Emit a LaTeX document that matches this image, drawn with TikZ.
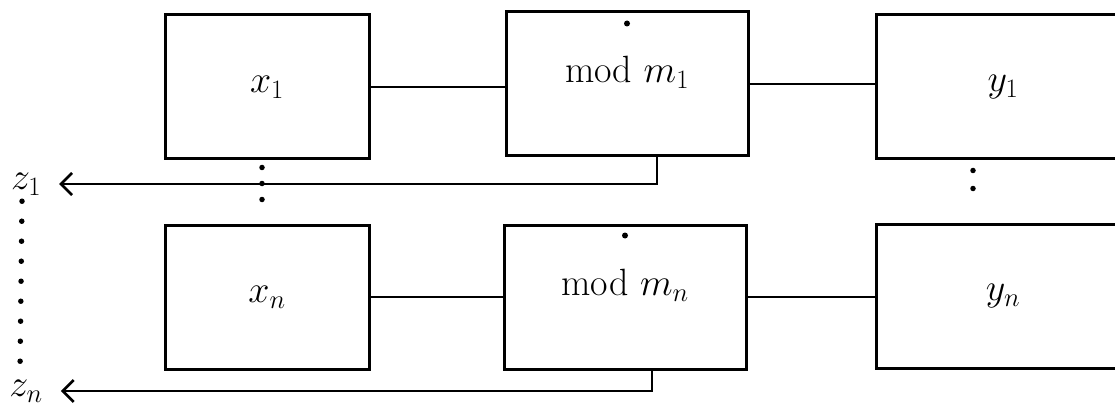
\RequirePackage{fix-cm}
\documentclass[tikz,border=0pt]{standalone}
\usepackage{amsmath}
\usetikzlibrary{arrows.meta, positioning, calc}

\newcommand{\lifted}[1]{\raisebox{0pt}[\height][\dimexpr\depth+24pt\relax]{#1}}

\begin{document}
\begin{tikzpicture}[
    x=1pt, y=-1pt,
    font=\fontsize{38}{44}\selectfont,
    line/.style={draw, line width=2.6pt, shorten >=16pt,
        -{Straight Barb[length=11pt, width=22pt, line width=2.6pt]}},
    wire/.style={draw, line width=2.6pt},
    block/.style={
        rectangle, draw=black, line width=3pt,
        minimum width=204pt, minimum height=144pt,
        inner sep=0pt, align=center
    },
    modblock/.style={block, minimum width=242pt},
    outblock/.style={block, minimum width=253pt},
    dotline/.style={draw, line width=5.5pt, line cap=round, dash pattern=on 0pt off #1},
    tag/.style={inner sep=2pt}
]
    \useasboundingbox (0,0) rectangle (1115,414);

    % Nodes (top row)
    \node[block] (x1) at (267,87) {$x_1$};
    \node[modblock] (m1) at (627,84) {\lifted{mod $m_1$}};
    \node[outblock] (y1) at (1003,87) {$y_1$};

    % Nodes (bottom row)
    \node[block] (xn) at (267,297) {$x_n$};
    \node[modblock] (mn) at (625,297) {\lifted{mod $m_n$}};
    \node[outblock] (yn) at (1003,296) {$y_n$};

    % Outputs
    \node[tag] (z1) at (26,184) {$z_1$};
    \node[tag] (zn) at (26,391) {$z_n$};
    \coordinate (t1) at ([xshift=30pt]m1.south);
    \coordinate (tn) at ([xshift=27pt]mn.south);

    % Wires
    \path[wire] (x1) -- (m1.west |- x1);
    \path[wire] (m1) -- (y1.west |- m1);
    \path[wire] (xn) -- (mn.west |- xn);
    \path[wire] (mn) -- (yn.west |- mn);

    % Feedback arrows
    \path[line] (t1) |- (z1);
    \path[line] (tn) |- (zn);

    % Dots
    \path[dotline=16pt] ([xshift=-5pt,yshift=-7pt]x1.south) -- ([xshift=-5pt,yshift=8pt]xn.north);
    \path[dotline=18pt] ([xshift=-30pt,yshift=-10pt]y1.south) -- ([xshift=-30pt,yshift=18pt]yn.north);
    \path[dotline=20pt] ([xshift=-4pt,yshift=-4pt]z1.south) -- ([xshift=-6pt,yshift=6pt]zn.north);

    % Marks on the mod boxes
    \fill ([yshift=-13pt]m1.north) circle (3pt);
    \fill ([yshift=-12pt]mn.north) circle (3pt);
\end{tikzpicture}
\end{document}
